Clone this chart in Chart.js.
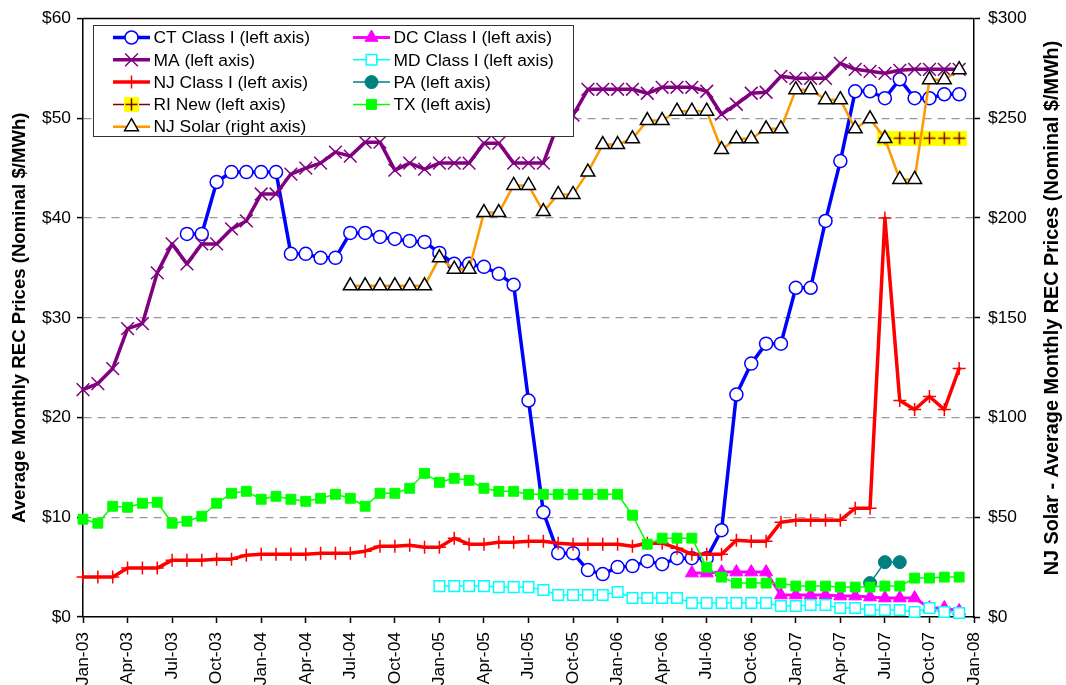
<!DOCTYPE html>
<html>
<head>
<meta charset="utf-8">
<title>Monthly REC Prices</title>
<script src="https://cdn.jsdelivr.net/npm/chart.js@4.4.1/dist/chart.umd.min.js"></script>
<style>
  html, body { margin: 0; padding: 0; background: #fff; }
  #wrap { width: 1066px; height: 685px; }
</style>
</head>
<body>
<div id="wrap"><canvas id="recChart" width="1066" height="685"></canvas></div>
<script>
// x axis runs in months from Jan-03 (0) to Jan-08 (60)
const tickLabels = ['Jan-03', 'Apr-03', 'Jul-03', 'Oct-03', 'Jan-04', 'Apr-04', 'Jul-04', 'Oct-04',
    'Jan-05', 'Apr-05', 'Jul-05', 'Oct-05', 'Jan-06', 'Apr-06', 'Jul-06', 'Oct-06',
    'Jan-07', 'Apr-07', 'Jul-07', 'Oct-07', 'Jan-08'];

// each series: first month index + monthly values ($/MWh)
const ctStart = 7;
const ctClass1 = [38.4, 38.4, 43.6, 44.6, 44.6,
    44.6, 44.6, 36.4, 36.4, 36.0, 36.0, 38.5, 38.5, 38.1, 37.9, 37.7, 37.6,
    36.5, 35.4, 35.4, 35.1, 34.4, 33.3, 21.7, 10.5, 6.4, 6.4, 4.7, 4.3,
    5.0, 5.1, 5.6, 5.3, 5.9, 5.9, 5.9, 8.7, 22.3, 25.4, 27.4, 27.4,
    33.0, 33.0, 39.7, 45.7, 52.7, 52.7, 52.0, 53.9, 52.0, 52.0, 52.4, 52.4];

const maStart = 0;
const maPrices = [22.8, 23.4, 24.9, 28.9, 29.4, 34.5, 37.4, 35.4, 37.4, 37.4, 38.9, 39.7,
    42.4, 42.4, 44.4, 45.0, 45.5, 46.6, 46.2, 47.6, 47.6, 44.8, 45.5, 44.9,
    45.5, 45.5, 45.5, 47.5, 47.5, 45.5, 45.5, 45.5, 49.5, 50.3, 52.9, 52.9,
    52.9, 52.9, 52.5, 53.1, 53.1, 53.1, 52.7, 50.4, 51.4, 52.5, 52.6, 54.2,
    54.0, 54.0, 54.0, 55.5, 54.9, 54.7, 54.5, 54.8, 54.9, 54.9, 54.9, 54.9];

const njStart = 0;
const njClass1 = [4.0, 4.0, 4.0, 4.9, 4.9, 4.9, 5.7, 5.7, 5.7, 5.8, 5.8, 6.2,
    6.3, 6.3, 6.3, 6.3, 6.4, 6.4, 6.4, 6.6, 7.1, 7.1, 7.2, 7.0,
    7.0, 7.9, 7.3, 7.3, 7.5, 7.5, 7.6, 7.6, 7.4, 7.3, 7.3, 7.3,
    7.3, 7.1, 7.4, 7.4, 6.9, 6.3, 6.3, 6.3, 7.7, 7.6, 7.6, 9.5,
    9.7, 9.7, 9.7, 9.7, 10.9, 10.9, 40.0, 21.7, 20.8, 22.1, 20.8, 24.9];

const riStart = 54;
const riNew = [48.0, 48.0, 48.0, 48.0, 48.0, 48.0];

const solarStart = 18;   // right axis
const njSolar = [166, 166, 166, 166, 166, 166,
    180, 174.3, 174.3, 202.7, 202.7, 216.3, 216.3, 203.2, 211.8, 211.8, 223, 236.8,
    236.8, 239.7, 248.8, 248.8, 253.5, 253.5, 253.5, 234.3, 239.7, 239.7, 244.7, 244.7,
    264.3, 264.3, 259.3, 259.3, 244.7, 249.7, 239.8, 219.3, 219.3, 269.3, 269.3, 274.3];

const dcStart = 41;
const dcClass1 = [4.4, 4.4, 4.5, 4.5, 4.5, 4.5, 2.2,
    2.2, 2.2, 2.2, 2.1, 2.1, 2.0, 1.9, 1.9, 1.9, 0.9, 0.9, 0.6];

const mdStart = 24;
const mdClass1 = [3.1, 3.1, 3.1, 3.1, 3.0, 3.0, 3.0, 2.7, 2.2, 2.2, 2.2, 2.2,
    2.5, 1.9, 1.9, 1.9, 1.9, 1.4, 1.4, 1.4, 1.4, 1.4, 1.4, 1.1,
    1.1, 1.2, 1.2, 0.9, 0.9, 0.7, 0.7, 0.7, 0.5, 0.9, 0.5, 0.4];

const paStart = 53;
const paPrices = [3.4, 5.5, 5.5];

const txStart = 0;
const txPrices = [9.8, 9.4, 11.1, 11.0, 11.4, 11.5, 9.4, 9.6, 10.1, 11.4, 12.4, 12.6,
    11.8, 12.1, 11.8, 11.6, 11.9, 12.3, 11.9, 11.1, 12.4, 12.4, 12.9, 14.4,
    13.5, 13.9, 13.7, 12.9, 12.6, 12.6, 12.3, 12.3, 12.3, 12.3, 12.3, 12.3,
    12.3, 10.2, 7.3, 7.9, 7.9, 7.9, 5.0, 4.0, 3.4, 3.4, 3.4, 3.4,
    3.1, 3.1, 3.1, 3.0, 3.0, 3.0, 3.1, 3.1, 3.9, 3.9, 4.0, 4.0];

function toPoints(start, values) {
    return values.map((v, k) => ({ x: start + k, y: v }));
}

// RI marker: yellow square with a dark red plus
const riMarker = document.createElement('canvas');
riMarker.width = 15;
riMarker.height = 15;
const rc = riMarker.getContext('2d');
rc.fillStyle = '#ffff00';
rc.fillRect(0, 0, 15, 15);
rc.strokeStyle = '#800000';
rc.lineWidth = 1.5;
rc.beginPath();
rc.moveTo(7.5, 1.5); rc.lineTo(7.5, 13.5);
rc.moveTo(1.5, 7.5); rc.lineTo(13.5, 7.5);
rc.stroke();

function series(label, data, color, lineWidth, style, radius, fill, edge, edgeWidth, axis, order) {
    return {
        label: label,
        data: data,
        borderColor: color,
        borderWidth: lineWidth,
        pointStyle: style,
        pointRadius: radius,
        pointHoverRadius: radius,
        pointBackgroundColor: fill,
        pointBorderColor: edge,
        pointBorderWidth: edgeWidth,
        yAxisID: axis,
        order: order,
        tension: 0,
        clip: false,
        borderJoinStyle: 'round',
        borderCapStyle: 'round',
        fill: false
    };
}

// legend order (two columns, filled top to bottom); "order" sets drawing layers
const datasets = [
    series('CT Class I (left axis)', toPoints(ctStart, ctClass1), '#0000ff', 3.5, 'circle', 6.5, '#ffffff', '#0000ff', 1.5, 'y', 9),
    series('MA (left axis)', toPoints(maStart, maPrices), '#800080', 3.5, 'crossRot', 9, '#800080', '#800080', 1.5, 'y', 8),
    series('NJ Class I (left axis)', toPoints(njStart, njClass1), '#ff0000', 3.5, 'cross', 6.5, '#ff0000', '#ff0000', 1.5, 'y', 7),
    series('RI New (left axis)', toPoints(riStart, riNew), '#800000', 1.5, riMarker, 7, '#ffff00', '#800000', 1.5, 'y', 6),
    series('NJ Solar (right axis)', toPoints(solarStart, njSolar), '#ff9900', 2.5, 'triangle', 8, '#ffffff', '#000000', 1.5, 'y1', 1),
    series('DC Class I (left axis)', toPoints(dcStart, dcClass1), '#ff00ff', 3, 'triangle', 7.5, '#ff00ff', '#ff00ff', 1, 'y', 5),
    series('MD Class I (left axis)', toPoints(mdStart, mdClass1), '#00ffff', 1.5, 'rect', 7.5, '#ffffff', '#00ffff', 1.5, 'y', 4),
    series('PA (left axis)', toPoints(paStart, paPrices), '#008080', 1.5, 'circle', 6.5, '#008080', '#008080', 1, 'y', 3),
    series('TX (left axis)', toPoints(txStart, txPrices), '#00ff00', 1.5, 'rect', 7, '#00ff00', '#00ff00', 1, 'y', 2)
];

// Excel-style boxed legend, right axis title and top frame line
const excelExtras = {
    id: 'excelExtras',
    afterDraw(chart) {
        const ctx = chart.ctx;
        const area = chart.chartArea;
        ctx.save();

        ctx.strokeStyle = '#000';
        ctx.lineWidth = 1.5;
        ctx.beginPath();
        ctx.moveTo(area.left, area.top);
        ctx.lineTo(area.right, area.top);
        ctx.stroke();

        // legend box
        ctx.fillStyle = '#fff';
        ctx.fillRect(93.5, 25.5, 480, 111);
        ctx.strokeStyle = '#333';
        ctx.lineWidth = 1;
        ctx.strokeRect(93.5, 25.5, 480, 111);

        ctx.font = "17.4px 'Liberation Sans', Arial, sans-serif";
        ctx.textBaseline = 'middle';
        ctx.textAlign = 'left';
        chart.data.datasets.forEach((ds, i) => {
            const col = i < 5 ? 0 : 1;
            const row = i < 5 ? i : i - 5;
            const x0 = 113 + col * 240;
            const y = 37.5 + row * 22.3;
            ctx.strokeStyle = ds.borderColor;
            ctx.lineWidth = ds.borderWidth;
            ctx.beginPath();
            ctx.moveTo(x0, y);
            ctx.lineTo(x0 + 37, y);
            ctx.stroke();
            ctx.fillStyle = ds.pointBackgroundColor;
            ctx.strokeStyle = ds.pointBorderColor;
            ctx.lineWidth = ds.pointBorderWidth;
            Chart.helpers.drawPoint(ctx, {
                pointStyle: ds.pointStyle,
                radius: ds.pointRadius,
                borderWidth: ds.pointBorderWidth,
                rotation: 0
            }, x0 + 18.5, y);
            ctx.fillStyle = '#000';
            ctx.fillText(ds.label, x0 + 40.5, y + 1);
        });

        // right axis title reads bottom to top like the left one
        ctx.font = "bold 19.8px 'Liberation Sans', Arial, sans-serif";
        ctx.fillStyle = '#000';
        ctx.textAlign = 'center';
        ctx.translate(1053, 308);
        ctx.rotate(-Math.PI / 2);
        ctx.fillText('NJ Solar - Average Monthly REC Prices (Nominal $/MWh)', 0, 0);
        ctx.restore();
    }
};

Chart.defaults.font.family = "'Liberation Sans', Arial, sans-serif";
Chart.defaults.font.size = 17.4;
Chart.defaults.color = '#000';

new Chart(document.getElementById('recChart').getContext('2d'), {
    type: 'line',
    data: { datasets: datasets },
    options: {
        responsive: false,
        animation: false,
        layout: { padding: { top: 17, left: 0, right: 0, bottom: 0 } },
        plugins: {
            legend: { display: false },
            tooltip: { enabled: false }
        },
        scales: {
            x: {
                type: 'linear',
                min: 0,
                max: 60,
                ticks: {
                    stepSize: 3,
                    autoSkip: false,
                    maxRotation: 90,
                    minRotation: 90,
                    padding: 9,
                    callback: v => tickLabels[v / 3] || ''
                },
                grid: { drawOnChartArea: false, tickLength: 6, tickColor: '#000', tickWidth: 1.5 },
                border: { color: '#000', width: 1.5 },
                afterFit: s => { s.height = 68; }
            },
            y: {
                position: 'left',
                min: 0,
                max: 60,
                ticks: { stepSize: 10, padding: 6, callback: v => '$' + v },
                grid: {
                    color: c => (c.tick && (c.tick.value === 0 || c.tick.value === 60)) ? 'rgba(0,0,0,0)' : '#999',
                    lineWidth: 1.2,
                    tickLength: 6,
                    tickColor: '#000',
                    tickWidth: 1.5,
                    tickBorderDash: []
                },
                border: { color: '#000', width: 1.5, dash: [8, 6] },
                title: {
                    display: true,
                    text: 'Average Monthly REC Prices (Nominal $/MWh)',
                    font: { size: 18.6, weight: 'bold' },
                    padding: { top: 9, bottom: 0 }
                },
                afterFit: s => { s.width = 83; }
            },
            y1: {
                position: 'right',
                min: 0,
                max: 300,
                ticks: { stepSize: 50, padding: 8, callback: v => '$' + v },
                grid: { drawOnChartArea: false, tickLength: 6, tickColor: '#000', tickWidth: 1.5 },
                border: { color: '#000', width: 1.5 },
                afterFit: s => { s.width = 92; }
            }
        }
    },
    plugins: [excelExtras]
});
</script>
</body>
</html>
